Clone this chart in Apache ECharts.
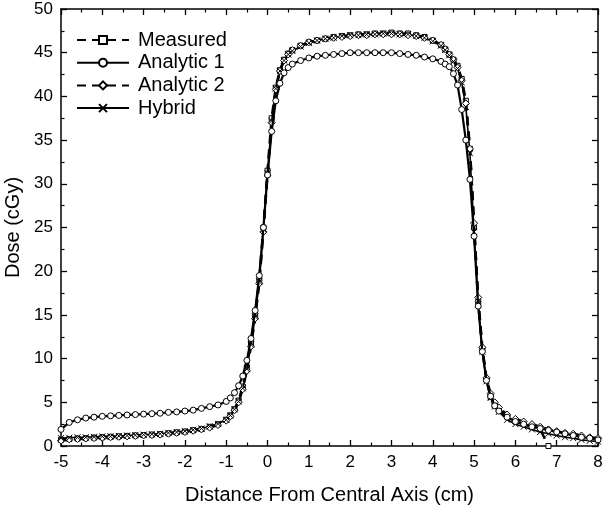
<!DOCTYPE html>
<html><head><meta charset="utf-8">
<script src="https://cdn.jsdelivr.net/npm/echarts@6/dist/echarts.min.js"></script>
<style>html,body{margin:0;padding:0;background:#fff}#c{width:606px;height:510px}</style>
</head><body><div id="c"></div>
<script>
const xPos = [-5.0,-4.8,-4.6,-4.4,-4.2,-4.0,-3.8,-3.6,-3.4,-3.2,-3.0,-2.8,-2.6,-2.4,-2.2,-2.0,-1.8,-1.6,-1.4,-1.2,
  -1.0,-0.9,-0.8,-0.7,-0.6,-0.5,-0.4,-0.3,-0.2,-0.1,0.0,0.1,0.2,0.3,0.4,0.5,0.6,
  0.8,1.0,1.2,1.4,1.6,1.8,2.0,2.2,2.4,2.6,2.8,3.0,3.2,3.4,3.6,3.8,4.0,4.2,
  4.3,4.4,4.5,4.6,4.7,4.8,4.9,5.0,5.1,5.2,5.3,5.4,5.5,5.6,
  5.8,6.0,6.2,6.4,6.6,6.8,7.0,7.2,7.4,7.6,7.8,8.0];

const measured = [0.7,0.8,0.85,0.9,0.95,1.0,1.05,1.1,1.15,1.2,1.25,1.3,1.35,1.45,1.55,1.65,1.8,1.95,2.2,2.5,
  3.0,3.5,4.2,5.2,6.8,9.0,11.8,15.0,19.0,25.0,31.5,37.5,41.0,43.0,44.2,44.9,45.3,
  45.8,46.2,46.4,46.6,46.8,46.9,47.0,47.1,47.1,47.2,47.2,47.3,47.2,47.2,47.0,46.8,46.4,45.9,
  45.4,44.8,44.2,43.5,42.0,39.5,34.0,25.0,16.5,11.0,7.6,5.6,4.7,4.2,
  3.4,2.8,2.5,2.2,1.9,0.0,null,null,null,null,null,null];

const analytic1 = [1.9,2.7,3.0,3.2,3.3,3.4,3.45,3.5,3.55,3.6,3.65,3.7,3.75,3.85,3.9,4.0,4.1,4.3,4.5,4.7,
  5.1,5.5,6.1,6.9,8.0,9.8,12.3,15.5,19.5,25.0,31.0,36.0,39.5,41.5,42.7,43.3,43.7,
  44.1,44.4,44.6,44.7,44.8,44.9,45.0,45.0,45.0,45.0,45.0,45.0,44.9,44.8,44.7,44.5,44.3,44.0,
  43.7,43.4,42.6,41.3,38.5,35.0,30.5,24.0,16.0,10.8,7.5,5.7,4.6,4.0,
  3.3,2.8,2.5,2.2,2.0,1.8,1.6,1.4,1.2,1.0,0.9,0.7];

const analytic2 = [0.6,0.75,0.8,0.85,0.9,0.95,1.0,1.05,1.1,1.15,1.2,1.25,1.3,1.4,1.5,1.6,1.75,1.9,2.1,2.4,
  2.9,3.4,4.1,5.0,6.5,8.6,11.4,14.6,18.6,24.5,31.0,37.0,40.8,42.9,44.1,44.8,45.3,
  45.8,46.2,46.4,46.6,46.7,46.8,46.9,47.0,47.0,47.1,47.1,47.1,47.1,47.0,46.9,46.7,46.4,45.9,
  45.4,44.8,44.2,43.3,41.8,39.2,34.0,25.5,17.0,11.3,7.8,6.0,5.0,4.4,
  3.6,3.1,2.8,2.5,2.2,1.9,1.7,1.5,1.4,1.2,1.0,0.9];

const hybrid = [0.9,0.95,1.0,1.0,1.05,1.1,1.1,1.15,1.2,1.25,1.3,1.35,1.4,1.5,1.6,1.7,1.85,2.0,2.25,2.55,
  3.0,3.5,4.2,5.1,6.6,8.8,11.6,14.8,18.8,24.8,31.2,37.2,40.9,42.9,44.1,44.8,45.2,
  45.7,46.1,46.4,46.6,46.7,46.9,47.0,47.0,47.1,47.1,47.2,47.2,47.1,47.1,46.9,46.7,46.3,45.8,
  45.3,44.7,44.0,43.2,41.6,38.8,33.5,24.5,16.2,10.8,7.4,5.5,4.5,3.9,
  3.0,2.5,2.2,1.9,1.6,1.4,1.2,1.0,0.9,0.7,0.6,0.5];

const yTicks = [0,5,10,15,20,25,30,35,40,45,50];
const xTicks = [-5,-4,-3,-2,-1,0,1,2,3,4,5,6,7,8];

function pairs(ys){ return xPos.map((x,i)=>[x, ys[i]]); }

const FONT = 'Liberation Sans, Arial, sans-serif';
const chart = echarts.init(document.getElementById('c'), null, {renderer:'canvas'});

function axisCommon(showLabel){
  return {
    axisLine:{show:true, onZero:false, lineStyle:{color:'#000', width:1.5}},
    axisTick:{show:true, inside:true, length:6, lineStyle:{color:'#000', width:1.3}},
    minorTick:{show:true, splitNumber:2, length:3.5, lineStyle:{color:'#000', width:1.2}},
    splitLine:{show:false},
    axisLabel:{show:showLabel, color:'#000', fontSize:17, fontFamily:FONT, margin:8}
  };
}

const crossPath = 'path://M0,0L10,10M10,0L0,10';

chart.setOption({
  animation:false,
  backgroundColor:'#fff',
  grid:{left:61, right:8, top:9, bottom:64, containLabel:false, outerBoundsMode:'none'},
  legend:{
    orient:'vertical', left:71, top:25, itemWidth:52, itemHeight:10, itemGap:2.7,
    textStyle:{color:'#000', fontSize:20, lineHeight:20, fontFamily:FONT, padding:[0,0,0,4]},
    data:['Measured','Analytic 1','Analytic 2','Hybrid']
  },
  xAxis:[
    Object.assign({type:'value', min:-5, max:8, interval:1, position:'bottom',
      name:'Distance From Central Axis (cm)', nameLocation:'middle', nameGap:39,
      nameTextStyle:{color:'#000', fontSize:20, fontFamily:FONT}}, axisCommon(true)),
    Object.assign({type:'value', min:-5, max:8, interval:1, position:'top'}, axisCommon(false))
  ],
  yAxis:[
    Object.assign({type:'value', min:0, max:50, interval:5, position:'left',
      name:'Dose (cGy)', nameLocation:'middle', nameGap:38,
      nameTextStyle:{color:'#000', fontSize:20, fontFamily:FONT}}, axisCommon(true)),
    Object.assign({type:'value', min:0, max:50, interval:5, position:'right'}, axisCommon(false))
  ],
  series:[
    {name:'Measured', type:'line', data:pairs(measured), symbol:'rect', symbolSize:5,
     lineStyle:{color:'#000', width:2.6, type:[9,6]},
     itemStyle:{color:'#fff', borderColor:'#000', borderWidth:1}, z:2},
    {name:'Analytic 1', type:'line', data:pairs(analytic1), symbol:'circle', symbolSize:6,
     lineStyle:{color:'#000', width:2.2},
     itemStyle:{color:'#fff', borderColor:'#000', borderWidth:1}, z:4},
    {name:'Analytic 2', type:'line', data:pairs(analytic2), symbol:'diamond', symbolSize:7,
     lineStyle:{color:'#000', width:2.4, type:[9,6]},
     itemStyle:{color:'#fff', borderColor:'#000', borderWidth:1}, z:3},
    {name:'Hybrid', type:'line', data:pairs(hybrid), symbol:crossPath, symbolSize:6,
     lineStyle:{color:'#000', width:1.6},
     itemStyle:{color:'#000', borderColor:'#000', borderWidth:1}, z:3}
  ]
});
</script></body></html>
